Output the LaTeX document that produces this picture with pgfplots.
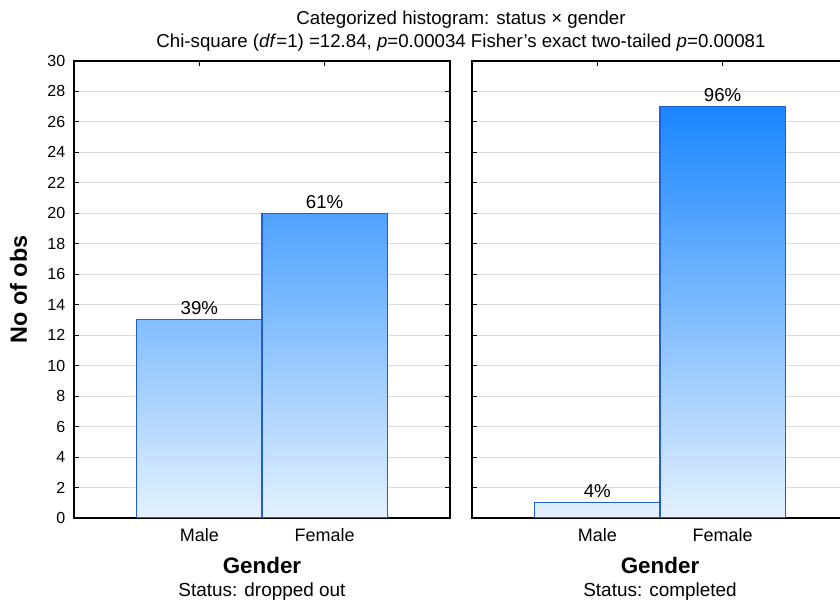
\documentclass[border=0pt]{standalone}
\usepackage{pgfplots}
\pgfplotsset{compat=1.18}
\usepackage{fontspec}
\setmainfont{Liberation Sans}
\definecolor{clow}{HTML}{E4F1FE}
\definecolor{chigh}{HTML}{1A86FF}
\definecolor{edge}{HTML}{1F5ED6}
\definecolor{gridc}{HTML}{DCDCDC}
\pgfplotsset{panel/.style={
  width=282pt, height=342.75pt, scale only axis,
  xmin=0, xmax=3, ymin=0, ymax=30,
  xtick={1,2}, xticklabels={Male,Female},
  ytick={0,2,...,30},
  tick align=inside, major tick length=4pt,
  tick style={black, line width=0.8pt},
  axis line style={black, line width=1.1pt},
  ymajorgrids, grid style={gridc, line width=0.8pt},
  /pgf/number format/assume math mode=true,
  tick label style={font=\fontsize{12}{14}\selectfont},
  xticklabel style={font=\fontsize{13.5}{15}\selectfont, yshift=-4.5pt},
  yticklabel style={xshift=-3pt},
  anchor=south west,
},
bar/.style={ybar, bar width=1, draw=edge, line width=0.8pt, shading=axis, bottom color=clow,
  nodes near coords style={font=\fontsize{14}{16}\selectfont, black}},
}
\begin{document}
\begin{tikzpicture}
\clip (-55.5pt,-63.75pt) rectangle (574.5pt,388.5pt);
\useasboundingbox (-55.5pt,-63.75pt) rectangle (574.5pt,388.5pt);
\begin{axis}[panel, at={(0pt,0pt)}]
\addplot[bar, top color=chigh!48!clow, nodes near coords={39\%}] coordinates {(1,13)};
\addplot[bar, top color=chigh!74!clow, nodes near coords={61\%}] coordinates {(2,20)};
\end{axis}
\begin{axis}[panel, at={(298.5pt,0pt)}, yticklabels={}]
\addplot[bar, top color=chigh!4!clow, nodes near coords={4\%}] coordinates {(1,1)};
\addplot[bar, top color=chigh, nodes near coords={96\%}] coordinates {(2,27)};
\end{axis}
\node[anchor=base, font=\fontsize{14}{16}\selectfont] at (290.25pt,369.75pt) {Categorized histogram: status × gender};
\node[anchor=base, font=\fontsize{14}{16}\selectfont] at (290.25pt,352.5pt) {Chi-square (\textit{df}=1) =12.84, \textit{p}=0.00034 Fisher’s exact two-tailed \textit{p}=0.00081};
\node[anchor=base, rotate=90, font=\bfseries\fontsize{17.5}{20}\selectfont] at (-35.25pt,171.4pt) {No of obs};
\node[anchor=base, font=\bfseries\fontsize{16.8}{19}\selectfont] at (141pt,-42pt) {Gender};
\node[anchor=base, font=\fontsize{14.2}{16}\selectfont] at (141pt,-59pt) {Status: dropped out};
\node[anchor=base, font=\bfseries\fontsize{16.8}{19}\selectfont] at (439.5pt,-42pt) {Gender};
\node[anchor=base, font=\fontsize{14.2}{16}\selectfont] at (439.5pt,-59pt) {Status: completed};
\end{tikzpicture}
\end{document}
